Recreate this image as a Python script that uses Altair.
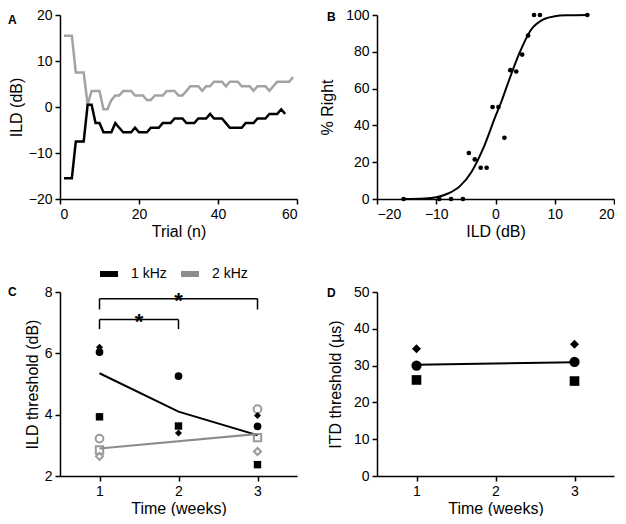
import altair as alt
import pandas as pd

FONT = "Liberation Sans"
W, H = 237, 184

# ---------------- Panel A: staircase tracks ----------------
a_trials_1k = list(range(1, 58))
a_ild_1k = [-15.5, -15.5, -15.5, -7.5, -7.5, -7.5, 0.5, 0.5, -3.5, -3.5,
            -5.5, -5.5, -5.5, -3.5, -4.5, -5.5, -5.5, -5.5, -4.5, -5.5,
            -5.5, -5.5, -4.5, -4.5, -4.5, -3.5, -3.5, -3.5, -2.5, -2.5,
            -2.5, -3.5, -3.5, -3.5, -2.5, -2.5, -2.5, -1.5, -2.5, -2.5,
            -2.5, -3.5, -4.5, -4.5, -4.5, -4.5, -3.5, -3.5, -3.5, -2.5,
            -2.5, -2.5, -1.5, -1.5, -1.5, -0.5, -1.5]
a_trials_2k = list(range(1, 60))
a_ild_2k = [15.5, 15.5, 15.5, 7.5, 7.5, 7.5, 0.5, 3.5, 3.5, 3.5,
            -0.5, -0.5, 1.5, 2.5, 2.5, 3.5, 3.5, 3.5, 2.5, 2.5,
            2.5, 1.5, 1.5, 2.5, 2.5, 2.5, 3.5, 3.5, 3.5, 2.5,
            2.5, 3.5, 4.5, 4.5, 4.5, 3.5, 4.5, 4.5, 5.5, 5.5,
            5.5, 4.5, 5.5, 5.5, 5.5, 4.5, 4.5, 4.5, 3.5, 4.5,
            4.5, 4.5, 3.5, 4.5, 5.5, 5.5, 5.5, 5.5, 6.5]

# ---------------- Panel B: psychometric function ----------------
b_ild = [-15.5, -9.5, -7.5, -5.5, -4.5, -3.5, -2.5, -1.5, -0.5, 0.5,
         1.5, 2.5, 3.5, 4.5, 5.5, 6.5, 7.5, 15.5]
b_right = [0, 0, 0, 0, 25, 21.5, 17, 17, 50, 50,
           33.3, 70, 69.3, 78.5, 88.8, 100, 100, 100]
b_fit_ild = [-15.5, -12, -10, -8, -6, -4, -2, 0, 1, 2, 4, 6, 8, 10, 12, 15.5]
b_fit_right = [0, 0.3, 1, 3, 7, 15, 28, 45, 53, 62, 79, 92, 97.5, 99.3, 99.8, 100]

# ---------------- Panel C: ILD thresholds ----------------
subjects = ["S1", "S2", "S3"]
c_weeks_1k = [1, 1, 1, 2, 2, 2, 3, 3, 3]
c_subj_1k = ["S1", "S2", "S3"] * 3
c_thr_1k = [6.04, 3.93, 6.2, 5.26, 3.63, 3.4, 3.62, 2.37, 3.97]
c_weeks_2k = [1, 1, 1, 3, 3, 3]
c_subj_2k = ["S1", "S2", "S3"] * 2
c_thr_2k = [3.22, 2.85, 2.64, 4.18, 3.25, 2.8]
c_mean_weeks_1k = [1, 2, 3]
c_mean_1k = [5.35, 4.1, 3.33]
c_mean_weeks_2k = [1, 3]
c_mean_2k = [2.9, 3.37]
freq_labels = ["1 kHz", "2 kHz"]
bracket_start = [1, 1]
bracket_end = [3, 2]
bracket_top = [7.78, 7.1]
bracket_bottom = [7.43, 6.79]

# ---------------- Panel D: ITD thresholds ----------------
d_weeks = [1, 1, 1, 3, 3, 3]
d_subj = ["S1", "S2", "S3"] * 2
d_thr = [30.0, 26.1, 34.6, 31.0, 25.8, 35.8]
d_mean_weeks = [1, 3]
d_mean = [30.2, 30.9]


def letter(ch, dx, dy):
    return alt.Chart(pd.DataFrame({"t": [ch]})).mark_text(
        align="left", baseline="middle", font=FONT, fontSize=12,
        fontWeight="bold", color="black"
    ).encode(x=alt.value(dx), y=alt.value(dy), text="t:N")


# ---- A ----
dfA1 = pd.DataFrame({"trial": a_trials_1k, "ild": a_ild_1k})
dfA2 = pd.DataFrame({"trial": a_trials_2k, "ild": a_ild_2k})
xA = alt.X("trial:Q", scale=alt.Scale(domain=[0, 60], nice=False),
           axis=alt.Axis(values=[0, 20, 40, 60], title="Trial (n)", titlePadding=2))
yA = alt.Y("ild:Q", scale=alt.Scale(domain=[-20, 20], nice=False),
           axis=alt.Axis(values=[-20, -10, 0, 10, 20], title="ILD (dB)", titlePadding=4))
A = alt.layer(
    alt.Chart(dfA2).mark_line(color="#a3a3a3", strokeWidth=2.5).encode(x=xA, y=yA),
    alt.Chart(dfA1).mark_line(color="black", strokeWidth=2.5).encode(x=xA, y=yA),
    letter("A", -52, 5),
).properties(width=W, height=H)

# ---- B ----
dfB = pd.DataFrame({"ild": b_ild, "right": b_right})
dfBfit = pd.DataFrame({"ild": b_fit_ild, "right": b_fit_right})
xB = alt.X("ild:Q", scale=alt.Scale(domain=[-20, 20], nice=False),
           axis=alt.Axis(values=[-20, -10, 0, 10, 20], title="ILD (dB)", titlePadding=2))
yB = alt.Y("right:Q", scale=alt.Scale(domain=[0, 100], nice=False),
           axis=alt.Axis(values=[0, 20, 40, 60, 80, 100], title="% Right", titlePadding=10))
B = alt.layer(
    alt.Chart(dfBfit).mark_line(color="black", strokeWidth=2, interpolate="monotone").encode(x=xB, y=yB),
    alt.Chart(dfB).mark_circle(color="black", size=22, opacity=1).encode(x=xB, y=yB),
    letter("B", -50, 2),
).properties(width=W, height=H)

# ---- C ----
xC = alt.X("week:Q", scale=alt.Scale(domain=[0.5, 3.5], nice=False),
           axis=alt.Axis(values=[1, 2, 3], format="d", title="Time (weeks)", titlePadding=2))
yC = alt.Y("thr:Q", scale=alt.Scale(domain=[2, 8], nice=False),
           axis=alt.Axis(values=[2, 3, 4, 5, 6, 7, 8], title="ILD threshold (dB)", titlePadding=4))
shape_scale = alt.Scale(domain=subjects, range=["circle", "square", "diamond"])

dfC1 = pd.DataFrame({"week": c_weeks_1k, "subj": c_subj_1k, "thr": c_thr_1k})
dfC2 = pd.DataFrame({"week": c_weeks_2k, "subj": c_subj_2k, "thr": c_thr_2k})
dfCm = pd.DataFrame({
    "week": c_mean_weeks_1k + c_mean_weeks_2k,
    "thr": c_mean_1k + c_mean_2k,
    "freq": [freq_labels[0]] * len(c_mean_1k) + [freq_labels[1]] * len(c_mean_2k),
})
dfBrH = pd.DataFrame({"x1": bracket_start, "x2": bracket_end, "y": bracket_top,
                      "mid": [(s + e) / 2 for s, e in zip(bracket_start, bracket_end)]})
dfBrV = pd.DataFrame({
    "x": bracket_start + bracket_end,
    "y1": bracket_bottom + bracket_bottom,
    "y2": bracket_top + bracket_top,
})

C = alt.layer(
    alt.Chart(dfBrH).mark_rule(color="black", strokeWidth=1.5).encode(
        x=alt.X("x1:Q", scale=alt.Scale(domain=[0.5, 3.5], nice=False)), x2="x2:Q",
        y=alt.Y("y:Q", scale=alt.Scale(domain=[2, 8], nice=False))),
    alt.Chart(dfBrV).mark_rule(color="black", strokeWidth=1.5).encode(
        x=alt.X("x:Q"), y=alt.Y("y1:Q"), y2="y2:Q"),
    alt.Chart(dfBrH).mark_text(text="*", font=FONT, fontSize=22, fontWeight="bold",
                               baseline="alphabetic", dy=9, color="black").encode(
        x="mid:Q", y="y:Q"),
    alt.Chart(dfC2).mark_point(filled=False, color="#9a9a9a", strokeWidth=2, opacity=1).encode(
        x=xC, y=yC,
        shape=alt.Shape("subj:N", scale=shape_scale, legend=None),
        size=alt.Size("subj:O", scale=alt.Scale(domain=subjects, range=[60, 50, 100]), legend=None)),
    alt.Chart(dfCm).mark_line(strokeWidth=2).encode(
        x=xC, y=yC,
        color=alt.Color("freq:N", scale=alt.Scale(domain=freq_labels, range=["#000000", "#8c8c8c"]),
                        legend=alt.Legend(title=None, orient="none", legendX=37, legendY=-30,
                                          direction="horizontal", symbolType="stroke",
                                          symbolStrokeWidth=6, symbolSize=324,
                                          labelFont=FONT, labelFontSize=14, labelColor="black",
                                          labelOffset=10, columnPadding=2, padding=0))),
    alt.Chart(dfC1).mark_point(filled=True, color="black", opacity=1).encode(
        x=xC, y=yC,
        shape=alt.Shape("subj:N", scale=shape_scale, legend=None),
        size=alt.Size("subj:O", scale=alt.Scale(domain=subjects, range=[85, 70, 140]), legend=None)),
    letter("C", -52, 0),
).properties(width=W, height=H)

# ---- D ----
xD = alt.X("week:Q", scale=alt.Scale(domain=[0.5, 3.5], nice=False),
           axis=alt.Axis(values=[1, 2, 3], format="d", title="Time (weeks)", titlePadding=2))
yD = alt.Y("thr:Q", scale=alt.Scale(domain=[0, 50], nice=False),
           axis=alt.Axis(values=[0, 10, 20, 30, 40, 50], title="ITD threshold (µs)", titlePadding=10))
dfD = pd.DataFrame({"week": d_weeks, "subj": d_subj, "thr": d_thr})
dfDm = pd.DataFrame({"week": d_mean_weeks, "thr": d_mean})
D = alt.layer(
    alt.Chart(dfDm).mark_line(color="black", strokeWidth=2).encode(x=xD, y=yD),
    alt.Chart(dfD).mark_point(filled=True, color="black", opacity=1).encode(
        x=xD, y=yD,
        shape=alt.Shape("subj:N", scale=shape_scale, legend=None),
        size=alt.Size("subj:O", scale=alt.Scale(domain=subjects, range=[105, 80, 150]), legend=None)),
    letter("D", -50, 1),
).properties(width=W, height=H)

chart = alt.concat(
    A, B, C, D, columns=2, spacing={"row": 93, "column": 80}, bounds="flush"
).resolve_scale(
    color="independent", shape="independent", size="independent", x="independent", y="independent"
).properties(padding=0).configure(font=FONT).configure_view(stroke=None).configure_axis(
    grid=False, domainColor="black", domainWidth=1.5, tickColor="black", tickWidth=1.5,
    tickSize=5, labelFont=FONT, labelFontSize=14, labelColor="black", labelPadding=3,
    titleFont=FONT, titleFontSize=16, titleFontWeight="normal", titleColor="black",
    titlePadding=8
)

chart.save("out.html", embed_options={"renderer": "svg", "actions": False})
